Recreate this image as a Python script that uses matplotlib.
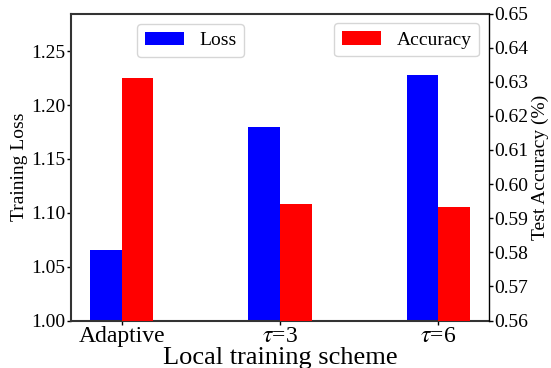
import matplotlib
matplotlib.use("Agg")
import matplotlib.pyplot as plt
import numpy as np

categories = ["Adaptive", r"$\tau$=3", r"$\tau$=6"]
loss = [1.065, 1.180, 1.228]
accuracy = [0.6311, 0.5942, 0.5933]
loss_ticks = [1.00, 1.05, 1.10, 1.15, 1.20, 1.25]
acc_ticks = [0.56, 0.57, 0.58, 0.59, 0.60, 0.61, 0.62, 0.63, 0.64, 0.65]

plt.rcParams['font.family'] = ['Liberation Serif', 'DejaVu Serif']
plt.rcParams['mathtext.fontset'] = 'stix'

fig = plt.figure(figsize=(5.51, 3.68), dpi=100)
ax1 = fig.add_axes([71/551, 1-320.5/368, 418/551, 307/368])
ax2 = ax1.twinx()

x = np.arange(len(categories))
w = 0.2
b1 = ax1.bar(x - w/2, loss, w, color='blue', label='Loss')
b2 = ax2.bar(x + w/2, accuracy, w, color='red', label='Accuracy')

ax1.set_ylim(1.0, 1.285)
ax2.set_ylim(0.56, 0.65)
ax1.set_xlim(-0.32, 2.32)
ax1.set_xticks(x)
ax1.set_xticklabels(categories, fontsize=17)
ax1.set_yticks(loss_ticks)
ax1.set_yticklabels([f"{t:.2f}" for t in loss_ticks], fontsize=14)
ax2.set_yticks(acc_ticks)
ax2.set_yticklabels([f"{t:.2f}" for t in acc_ticks], fontsize=14)

ax1.set_xlabel("Local training scheme", fontsize=19, labelpad=0)
ax1.set_ylabel("Training Loss", fontsize=14, labelpad=2)
ax2.set_ylabel("Test Accuracy (%)", fontsize=14, labelpad=2)

ax1.tick_params(axis='both', length=3, width=1, pad=1, colors='black')
ax2.tick_params(axis='y', length=3, width=1, pad=1)

for s in ['left', 'top', 'bottom']:
    ax1.spines[s].set_color('#333333')
    ax1.spines[s].set_linewidth(1.5)
ax1.spines['right'].set_visible(False)
for s in ['left', 'top', 'bottom']:
    ax2.spines[s].set_visible(False)
ax2.spines['right'].set_color('black')
ax2.spines['right'].set_linewidth(1.0)

ax1.legend(handles=[b1], loc='upper left', bbox_to_anchor=((137-71)/418, 1-(24-13.5)/307),
           borderaxespad=0, fontsize=14, fancybox=True)
ax2.legend(handles=[b2], loc='upper right', fontsize=14, fancybox=True)

fig.savefig("out.png", dpi=100)
